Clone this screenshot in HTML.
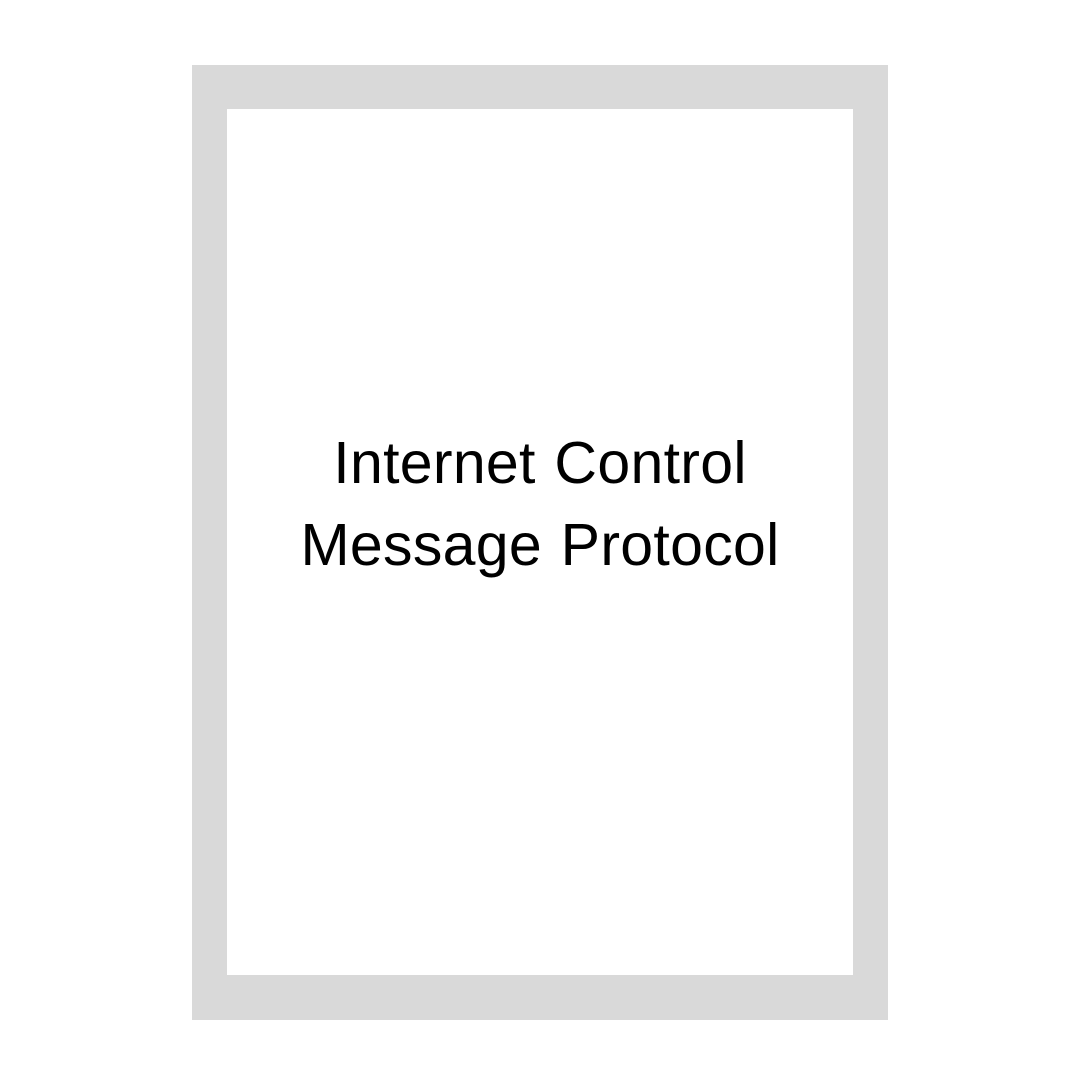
<!DOCTYPE html>
<html><head><meta charset="utf-8"><style>
html,body{margin:0;padding:0;background:#fff;width:1080px;height:1080px;overflow:hidden}
.outer{position:absolute;left:192px;top:65px;width:696px;height:955px;background:#d9d9d9}
.inner{position:absolute;left:227px;top:109px;width:626px;height:866px;background:#fff}
.t{position:absolute;left:0;width:1080px;top:422px;text-align:center;font-family:"Liberation Sans",sans-serif;font-size:59px;line-height:82px;color:#000;font-weight:normal;letter-spacing:0.3px;word-spacing:2px}
</style></head><body>
<div class="outer"></div><div class="inner"></div>
<div class="t">Internet Control<br>Message Protocol</div>
</body></html>
